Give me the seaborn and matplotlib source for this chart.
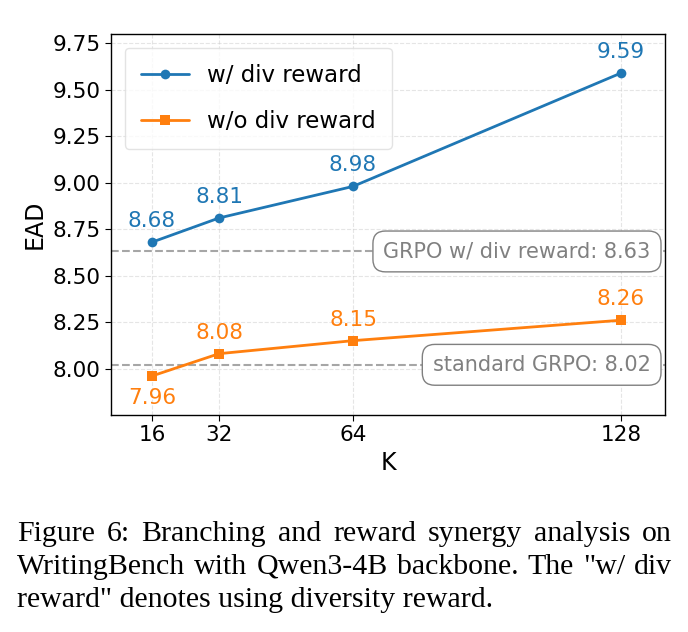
import matplotlib
matplotlib.use("Agg")
import matplotlib.pyplot as plt
import seaborn as sns
import pandas as pd

k_values = [16, 32, 64, 128]
with_div = [8.68, 8.81, 8.98, 9.59]
without_div = [7.96, 8.08, 8.15, 8.26]
grpo_div_baseline = 8.63
grpo_baseline = 8.02
caption_lines = [
    "Figure 6:  Branching and reward synergy analysis on",
    "WritingBench with Qwen3-4B backbone. The \"w/ div",
    "reward\" denotes using diversity reward.",
]

sns.set_style("white")
plt.rcParams["font.family"] = ["DejaVu Sans"]
plt.rcParams.update({"text.color": "black", "axes.labelcolor": "black",
                     "xtick.color": "black", "ytick.color": "black"})

df = pd.DataFrame({
    "K": k_values * 2,
    "EAD": with_div + without_div,
    "series": ["w/ div reward"] * 4 + ["w/o div reward"] * 4,
})

fig = plt.figure(figsize=(6.88, 6.32), dpi=100)
ax = fig.add_axes([111 / 688, 1 - 415 / 632, 554 / 688, 381 / 632])

blue, orange = "#1f77b4", "#ff7f0e"
sns.lineplot(data=df, x="K", y="EAD", hue="series", style="series",
             markers={"w/ div reward": "o", "w/o div reward": "s"}, dashes=False,
             palette={"w/ div reward": blue, "w/o div reward": orange},
             markersize=7, linewidth=2, markeredgewidth=0, ax=ax)

for i, (k, v) in enumerate(zip(k_values, with_div)):
    ax.annotate(f"{v:.2f}", (k, v), xytext=(0, 8), textcoords="offset points",
                ha="center", va="bottom", color=blue, fontsize=15.5)
for i, (k, v) in enumerate(zip(k_values, without_div)):
    if i == 0:
        ax.annotate(f"{v:.2f}", (k, v), xytext=(0, -9), textcoords="offset points",
                    ha="center", va="top", color=orange, fontsize=15.5)
    else:
        ax.annotate(f"{v:.2f}", (k, v), xytext=(0, 8), textcoords="offset points",
                    ha="center", va="bottom", color=orange, fontsize=15.5)

ax.axhline(grpo_div_baseline, color="gray", ls="--", lw=1.5, alpha=0.7, zorder=1)
ax.axhline(grpo_baseline, color="gray", ls="--", lw=1.5, alpha=0.7, zorder=1)
box = dict(boxstyle="round,pad=0.5,rounding_size=0.6", fc="white", ec="gray", lw=1)
ax.text(0.974, grpo_div_baseline, f"GRPO w/ div reward: {grpo_div_baseline:.2f}",
        transform=ax.get_yaxis_transform(), ha="right", va="center",
        color="gray", fontsize=15, bbox=box, zorder=3)
ax.text(0.974, grpo_baseline, f"standard GRPO: {grpo_baseline:.2f}",
        transform=ax.get_yaxis_transform(), ha="right", va="center",
        color="gray", fontsize=15, bbox=box, zorder=3)

ax.set_xticks(k_values)
ax.set_xticklabels([str(k) for k in k_values])
ax.set_xlim(6.2, 138.5)
ax.set_ylim(7.75, 9.80)
ax.set_yticks([8.00, 8.25, 8.50, 8.75, 9.00, 9.25, 9.50, 9.75])
ax.tick_params(labelsize=15.5, length=4, left=True, bottom=True)
ax.set_xlabel("K", fontsize=17)
ax.set_ylabel("EAD", fontsize=17)
ax.grid(True, ls="--", alpha=0.5)
for s in ax.spines.values():
    s.set_color("black")
    s.set_linewidth(1)

leg = ax.legend(loc="upper left", fontsize=16.5, frameon=True, handlelength=2.1,
                handletextpad=0.8, labelspacing=1.0, borderaxespad=0.6,
                borderpad=0.7)
leg.get_frame().set_edgecolor("#dddddd")

# caption, first two lines justified across the page width
renderer = fig.canvas.get_renderer()
x_left, x_right = 17 / 688, 672 / 688
fig_w = fig.get_figwidth() * fig.dpi
for i, line in enumerate(caption_lines):
    y = 1 - (534 + 33 * i) / 632
    if i == len(caption_lines) - 1:
        fig.text(x_left, y, line, ha="left", va="center",
                 fontsize=21.5, family=["Liberation Serif"])
        continue
    words = line.split()
    texts = [fig.text(0, y, w, ha="left", va="center", fontsize=21.5,
                      family=["Liberation Serif"]) for w in words]
    widths = [t.get_window_extent(renderer).width / fig_w for t in texts]
    gap = (x_right - x_left - sum(widths)) / (len(words) - 1)
    x = x_left
    for t, w in zip(texts, widths):
        t.set_x(x)
        x += w + gap

fig.savefig("out.png", dpi=100)
